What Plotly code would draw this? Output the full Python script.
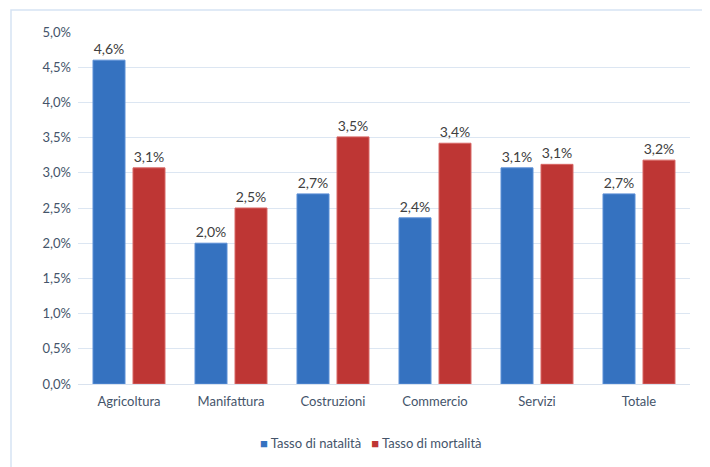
import plotly.graph_objects as go

categories = ["Agricoltura", "Manifattura", "Costruzioni", "Commercio", "Servizi", "Totale"]
natalita = [0.046, 0.020, 0.027, 0.0236, 0.0307, 0.027]
mortalita = [0.0307, 0.025, 0.0351, 0.0342, 0.0312, 0.0318]
natalita_labels = ["4,6%", "2,0%", "2,7%", "2,4%", "3,1%", "2,7%"]
mortalita_labels = ["3,1%", "2,5%", "3,5%", "3,4%", "3,1%", "3,2%"]
series_names = ["Tasso di natalità", "Tasso di mortalità"]
series_colors = ["#3572C0", "#BE3634"]

FONT = "Lato, Carlito, Calibri, sans-serif"
AXIS_COLOR = "#44546A"

fig = go.Figure()
fig.add_trace(go.Bar(
    x=categories, y=natalita, name=series_names[0],
    text=natalita_labels, textposition="outside",
    textfont=dict(family=FONT, size=14, color="#404040"),
    marker=dict(color=series_colors[0], line=dict(color="#5B8FD6", width=1)),
    cliponaxis=False, showlegend=False,
))
fig.add_trace(go.Bar(
    x=categories, y=mortalita, name=series_names[1],
    text=mortalita_labels, textposition="outside",
    textfont=dict(family=FONT, size=14, color="#404040"),
    marker=dict(color=series_colors[1], line=dict(color="#D86664", width=1)),
    cliponaxis=False, showlegend=False,
))

legend_text = "   ".join(
    f"<span style='color:{c}'>■</span> {n}" for n, c in zip(series_names, series_colors)
)

# page body has an 8px margin; figure is sized to fit the 710x467 window
W, H = 702, 459
fig.update_layout(
    width=W, height=H,
    margin=dict(l=70, r=20, t=24, b=83),
    paper_bgcolor="white", plot_bgcolor="white",
    separators=",.",
    barmode="group", bargap=0.216, bargroupgap=0.2,
    font=dict(family=FONT, size=13, color=AXIS_COLOR),
    showlegend=False,
    annotations=[dict(text=legend_text, xref="paper", yref="paper",
                      x=(371 - 78) / 612, y=-(443 - 384) / 352,
                      xanchor="center", yanchor="middle", showarrow=False,
                      font=dict(family=FONT, size=13, color=AXIS_COLOR))],
    xaxis=dict(showgrid=False, showline=True, linecolor="#D9E2EE", linewidth=1,
               ticks="", ticklabelstandoff=5,
               tickfont=dict(family=FONT, size=13, color=AXIS_COLOR)),
    yaxis=dict(range=[0, 0.05], dtick=0.005, tickformat=".1%",
               showgrid=True, gridcolor="#DCE6F2", gridwidth=1,
               zeroline=False, showline=False, ticks="", ticklabelstandoff=6,
               tickfont=dict(family=FONT, size=13, color=AXIS_COLOR)),
    shapes=[dict(type="rect", xref="paper", yref="paper",
                 x0=-67/612, x1=700/612, y0=-120/352, y1=374/352,
                 line=dict(color="#D6E3F3", width=1.5), fillcolor="rgba(0,0,0,0)")],
)

fig.write_html("out.html")
